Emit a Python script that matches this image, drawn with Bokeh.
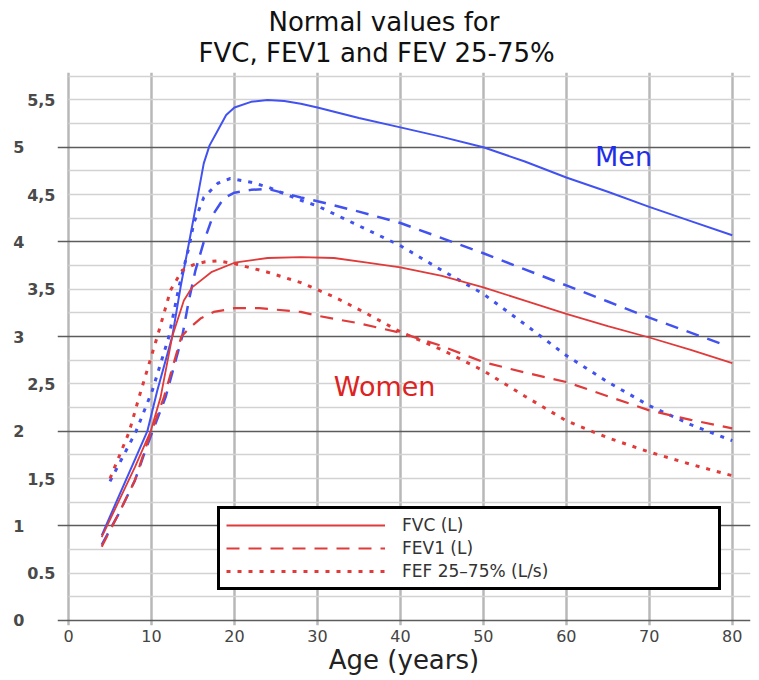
from bokeh.plotting import figure
from bokeh.models import Range1d, FixedTicker, Grid, LinearAxis, Legend, LegendItem, Label, Title
from bokeh.embed import file_html
from bokeh.resources import INLINE

# ---------------- data ----------------
title_lines = ["Normal values for", "FVC, FEV1 and FEV 25-75%"]
x_label = "Age (years)"
x_ticks = [0, 10, 20, 30, 40, 50, 60, 70, 80]
y_int_ticks = [0, 1, 2, 3, 4, 5]
y_half_ticks = [0.5, 1.5, 2.5, 3.5, 4.5, 5.5]
y_half_labels = ["0.5", "1,5", "2,5", "3,5", "4,5", "5,5"]
legend_labels = ["FVC (L)", "FEV1 (L)", "FEF 25\u201375% (L/s)"]
group_labels = ["Men", "Women"]

men_fvc_age = [4, 6, 8, 9.5, 10.7, 12.5, 13.5, 14.1, 14.5, 15.5, 16.3, 17, 18, 19, 20, 22, 24, 26, 28, 30,
               35, 40, 45, 50, 55, 60, 65, 70, 75, 80]
men_fvc = [0.9, 1.3, 1.7, 2.0, 2.43, 3.0, 3.52, 3.8, 3.98, 4.45, 4.83, 5.02, 5.18, 5.34, 5.42, 5.48, 5.5, 5.49,
           5.46, 5.42, 5.31, 5.21, 5.11, 5.0, 4.85, 4.68, 4.53, 4.37, 4.22, 4.07]

men_fev1_age = [4, 6, 8, 9.4, 11.7, 13.7, 14.5, 15.3, 16.3, 17.5, 18.7, 20, 22, 24, 28, 30, 35, 40, 45, 50,
                55, 60, 65, 70, 78.5]
men_fev1 = [0.8, 1.12, 1.48, 1.83, 2.36, 3.0, 3.38, 3.7, 4.0, 4.3, 4.46, 4.52, 4.55, 4.56, 4.47, 4.43, 4.32,
            4.2, 4.04, 3.88, 3.71, 3.54, 3.37, 3.2, 2.93]

men_fef_age = [5, 8.1, 10.1, 12.1, 13.3, 14.5, 15.1, 16.3, 18, 19.5, 22, 24, 28, 30, 35, 40, 45, 50, 55, 60,
               65, 70, 75, 80]
men_fef = [1.47, 1.99, 2.43, 3.0, 3.52, 3.94, 4.2, 4.47, 4.62, 4.67, 4.63, 4.58, 4.44, 4.38, 4.17, 3.96, 3.7,
           3.45, 3.13, 2.8, 2.52, 2.27, 2.07, 1.9]

women_fvc_age = [4, 6, 8, 9.9, 11.1, 12.5, 13.9, 14.9, 17.2, 20, 24, 28, 32, 36, 40, 45, 50, 55, 60, 65, 70,
                 75, 80]
women_fvc = [0.88, 1.25, 1.62, 2.0, 2.36, 3.0, 3.38, 3.52, 3.68, 3.78, 3.83, 3.84, 3.83, 3.78, 3.73, 3.64,
             3.52, 3.38, 3.24, 3.11, 2.99, 2.86, 2.72]

women_fev1_age = [4, 6, 8, 9.3, 11.5, 13.6, 14.7, 15.9, 17.5, 20, 23, 28, 30, 35, 40, 45, 50, 55, 60, 65, 70,
                  75, 80]
women_fev1 = [0.78, 1.12, 1.48, 1.83, 2.36, 3.0, 3.1, 3.19, 3.26, 3.3, 3.3, 3.26, 3.22, 3.14, 3.04, 2.9, 2.73,
              2.62, 2.52, 2.37, 2.22, 2.12, 2.03]

women_fef_age = [5, 7.3, 8.5, 10.7, 12.3, 13.7, 15.1, 16.5, 18, 20, 24, 28, 32, 36, 40, 45, 50, 55, 60, 65,
                 70, 75, 80]
women_fef = [1.5, 1.99, 2.36, 3.0, 3.49, 3.7, 3.76, 3.79, 3.8, 3.77, 3.68, 3.57, 3.42, 3.24, 3.05, 2.86, 2.64,
             2.37, 2.11, 1.93, 1.78, 1.65, 1.53]

# ---------------- styling ----------------
FONT = "DejaVu Sans"
BLUE = "#4252f0"
RED = "#e03a3a"
X_START, X_END = -1.33, 82.2

p = figure(width=752, height=679, output_backend="svg", toolbar_location=None,
           x_range=Range1d(X_START, X_END), y_range=Range1d(-0.053, 5.79),
           min_border_left=57, min_border_right=2, min_border_top=72, min_border_bottom=54)
p.outline_line_color = None
p.background_fill_color = "white"
p.border_fill_color = "white"

# titles (two lines)
p.title.text = title_lines[0]
p.title.align = "left"
p.title.offset = 211
p.title.text_font = FONT
p.title.text_font_size = "26px"
p.title.text_font_style = "normal"
p.title.text_color = "#111111"
p.title.standoff = -11
p.add_layout(Title(text=title_lines[1], align="left", offset=141, text_font=FONT, text_font_size="26px",
                   text_font_style="normal", text_color="#111111", standoff=9), "above")

# x axis
xax = p.xaxis[0]
xax.ticker = FixedTicker(ticks=x_ticks)
xax.axis_line_color = None
xax.major_tick_line_color = None
xax.minor_tick_line_color = None
xax.major_tick_out = 0
xax.major_tick_in = 0
xax.major_label_standoff = 4
xax.major_label_text_font = FONT
xax.major_label_text_font_size = "16px"
xax.major_label_text_color = "#444444"
xax.axis_label = x_label
xax.axis_label_text_font = FONT
xax.axis_label_text_font_size = "26px"
xax.axis_label_text_font_style = "normal"
xax.axis_label_text_color = "#222222"
xax.axis_label_standoff = 0

# y axis: half-value labels next to the frame
yax = p.yaxis[0]
yax.ticker = FixedTicker(ticks=y_half_ticks)
yax.major_label_overrides = {t: lab for t, lab in zip(y_half_ticks, y_half_labels)}
yax.axis_line_color = None
yax.major_tick_line_color = None
yax.minor_tick_line_color = None
yax.major_tick_out = 0
yax.major_tick_in = 0
yax.major_label_standoff = 2
yax.major_label_text_font = FONT
yax.major_label_text_font_size = "16px"
yax.major_label_text_font_style = "bold"
yax.major_label_text_color = "#4a4a4a"

# y axis: integer labels further out
yint = LinearAxis(ticker=FixedTicker(ticks=y_int_ticks), axis_line_color=None,
                  major_tick_line_color=None, minor_tick_line_color=None,
                  major_tick_out=0, major_tick_in=0, major_label_standoff=0,
                  major_label_text_font=FONT, major_label_text_font_size="16px",
                  major_label_text_font_style="bold", major_label_text_color="#4a4a4a")
p.add_layout(yint, "left")

# grids
p.xgrid.ticker = FixedTicker(ticks=x_ticks)
p.xgrid.grid_line_color = "#b8b8b8"
p.xgrid.grid_line_width = 2.5
y_minor_ticks = [k * 0.25 for k in range(1, 24) if k % 4]
p.ygrid.ticker = FixedTicker(ticks=y_minor_ticks)
p.ygrid.grid_line_color = "#d2d2d2"
p.ygrid.grid_line_width = 1.5
p.ygrid.cross_bounds = (0, X_END)
p.add_layout(Grid(dimension=1, ticker=FixedTicker(ticks=y_int_ticks),
                  grid_line_color="#5c5c5c", grid_line_width=1.5))

# curves
p.line(men_fvc_age, men_fvc, line_color=BLUE, line_width=2)
p.line(men_fev1_age, men_fev1, line_color=BLUE, line_width=2.5, line_dash="13 9")
p.line(men_fef_age, men_fef, line_color=BLUE, line_width=3, line_dash="4 7")
r_fvc = p.line(women_fvc_age, women_fvc, line_color=RED, line_width=1.8)
r_fev1 = p.line(women_fev1_age, women_fev1, line_color=RED, line_width=2.2, line_dash="13 9")
r_fef = p.line(women_fef_age, women_fef, line_color=RED, line_width=3, line_dash="4 7")

# group labels
p.add_layout(Label(x=66.9, y=4.9, text=group_labels[0], text_align="center", text_baseline="alphabetic",
                   text_font=FONT, text_font_size="27px", text_color="#1f2ee8"))
p.add_layout(Label(x=38.1, y=2.47, text=group_labels[1], text_align="center", text_baseline="alphabetic",
                   text_font=FONT, text_font_size="27px", text_color="#dd2222"))

# legend
legend = Legend(items=[LegendItem(label=lab, renderers=[r]) for lab, r in
                       zip(legend_labels, [r_fvc, r_fev1, r_fef])],
                location=(160, 35), orientation="vertical",
                glyph_width=159, glyph_height=20, label_height=20, label_width=310,
                label_standoff=17, padding=6, spacing=3, margin=0,
                border_line_color="black", border_line_width=3, border_line_alpha=1,
                background_fill_color="white", background_fill_alpha=1,
                label_text_font=FONT, label_text_font_size="17px", label_text_color="#333333")
p.add_layout(legend)

open("out.html", "w").write(file_html(p, INLINE))
